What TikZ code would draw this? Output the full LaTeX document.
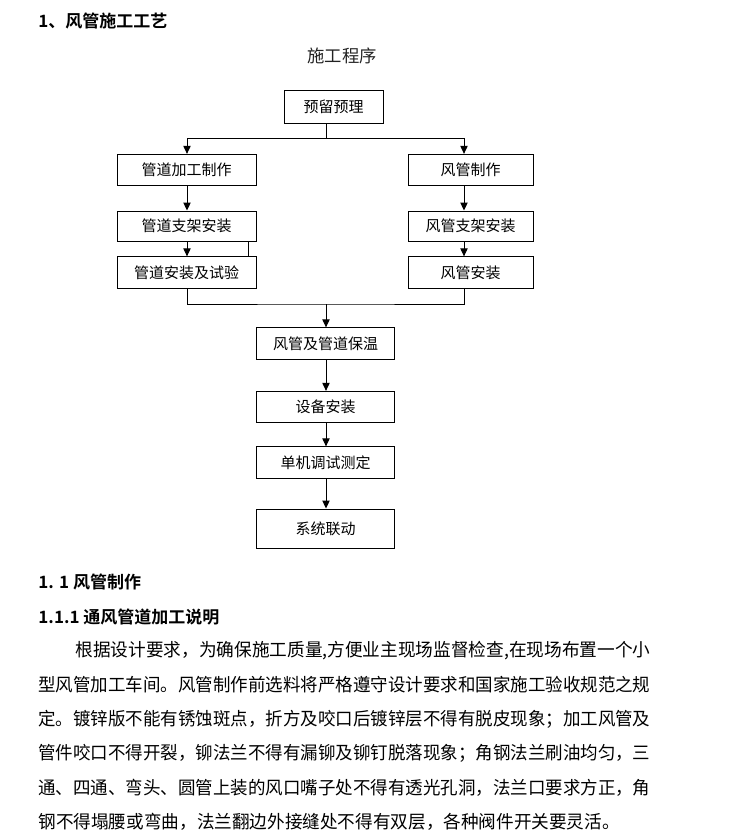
\documentclass[tikz,border=0pt]{standalone}
\usepackage{fontspec}
\newfontfamily\cjk{Noto Sans CJK SC}[BoldFont={Noto Sans CJK SC Bold}]
\usetikzlibrary{arrows.meta}
\newcommand\fitline[2]{\resizebox{#1}{\height}{#2}}
\definecolor{ink}{HTML}{000000}
\definecolor{ink2}{HTML}{222222}
\tikzset{
  >={Triangle[length=6pt,width=5.5pt]},
  every picture/.style={line width=0.7pt,draw=ink},
  bx/.style={draw=ink,fill=white,inner sep=0pt,minimum height=23.5pt,font=\cjk\fontsize{11.25}{13}\selectfont},
  bxl/.style={bx,minimum width=104.25pt},
  bxr/.style={bx,minimum width=93.75pt},
  bxm/.style={bx,minimum width=103pt},
  arr/.style={->,draw=ink},
  hd/.style={anchor=west,inner sep=0pt,font=\cjk\bfseries\fontsize{12.75}{15}\selectfont},
  cap0/.style={inner sep=0pt,text=ink2,font=\cjk\fontsize{13}{15}\selectfont},
  bodyline/.style={anchor=west,inner sep=0pt,font=\cjk\fontsize{13.5}{16}\selectfont},
}
\begin{document}
\begin{tikzpicture}[x=0.75pt,y=-0.75pt]
  \useasboundingbox (0,0) rectangle (737,831);
  \node[hd] (t0) at (38,21) {1、风管施工工艺};
  \node[cap0] (t1) at (342,56) {施工程序};
  % columns
  \coordinate (lx) at (187,0);
  \coordinate (mx) at (326,0);
  \coordinate (rx) at (464,0);
  \node[bx,minimum width=74.25pt,minimum height=24.75pt] (ylyl) at (333.5,106.5) {预留预理};
  \node[bxl] (gdjg) at (186.5,170) {管道加工制作};
  \node[bxl,minimum height=22.5pt] (gdzj) at (186.5,226) {管道支架安装};
  \node[bxl] (gdaz) at (186.5,272.5) {管道安装及试验};
  \node[bxr] (fgzz) at (470.5,170) {风管制作};
  \node[bxr,minimum height=22.5pt] (fgzj) at (470.5,226) {风管支架安装};
  \node[bxr] (fgaz) at (470.5,272.5) {风管安装};
  \node[bxm] (bw) at (325.5,343.5) {风管及管道保温};
  \node[bxm] (sbaz) at (325.5,407) {设备安装};
  \node[bxm] (djts) at (325.5,462.5) {单机调试测定};
  \node[bxm,minimum height=29.25pt] (xtld) at (325.5,528.5) {系统联动};
  % connectors
  \draw (ylyl.south -| mx) -- (mx |- 0,138) coordinate (split);
  \draw[arr] (split) -| (gdjg.north -| lx);
  \draw[arr] (split) -| (fgzz.north -| rx);
  \draw[arr] (gdjg.south -| lx) -- (gdzj.north -| lx);
  \draw[arr] (gdzj.south -| lx) -- (gdaz.north -| lx);
  \draw ([xshift=-6pt]gdzj.south east) -- ([xshift=-6pt]gdaz.north east);
  \draw[arr] (fgzz.south -| rx) -- (fgzj.north -| rx);
  \draw[arr] (fgzj.south -| rx) -- (fgaz.north -| rx);
  \coordinate (join) at (326,304);
  \draw (gdaz.south -| lx) |- (join) -| (fgaz.south -| rx);
  \draw[arr] (join) -- (bw.north -| mx);
  \draw[arr] (bw.south -| mx) -- (sbaz.north -| mx);
  \draw[arr] (sbaz.south -| mx) -- (djts.north -| mx);
  \draw[arr] (djts.south -| mx) -- (xtld.north -| mx);
  % text below
  \node[hd] (h1) at (38,582) {1. 1 风管制作};
  \node[hd] (h2) at (38,617) {1.1.1 通风管道加工说明};
  \node[bodyline] (p1) at (75,651) {\fitline{431.25pt}{根据设计要求，为确保施工质量,方便业主现场监督检查,在现场布置一个小}};
  \node[bodyline] (p2) at (38,685) {\fitline{459pt}{型风管加工车间。风管制作前选料将严格遵守设计要求和国家施工验收规范之规}};
  \node[bodyline] (p3) at (38,719.5) {\fitline{459pt}{定。镀锌版不能有锈蚀斑点，折方及咬口后镀锌层不得有脱皮现象；加工风管及}};
  \node[bodyline] (p4) at (38,753.5) {\fitline{459pt}{管件咬口不得开裂，铆法兰不得有漏铆及铆钉脱落现象；角钢法兰刷油均匀，三}};
  \node[bodyline] (p5) at (38,788) {\fitline{459pt}{通、四通、弯头、圆管上装的风口嘴子处不得有透光孔洞，法兰口要求方正，角}};
  \node[bodyline] (p6) at (38,822) {\fitline{436pt}{钢不得塌腰或弯曲，法兰翻边外接缝处不得有双层，各种阀件开关要灵活。}};
\end{tikzpicture}
\end{document}
